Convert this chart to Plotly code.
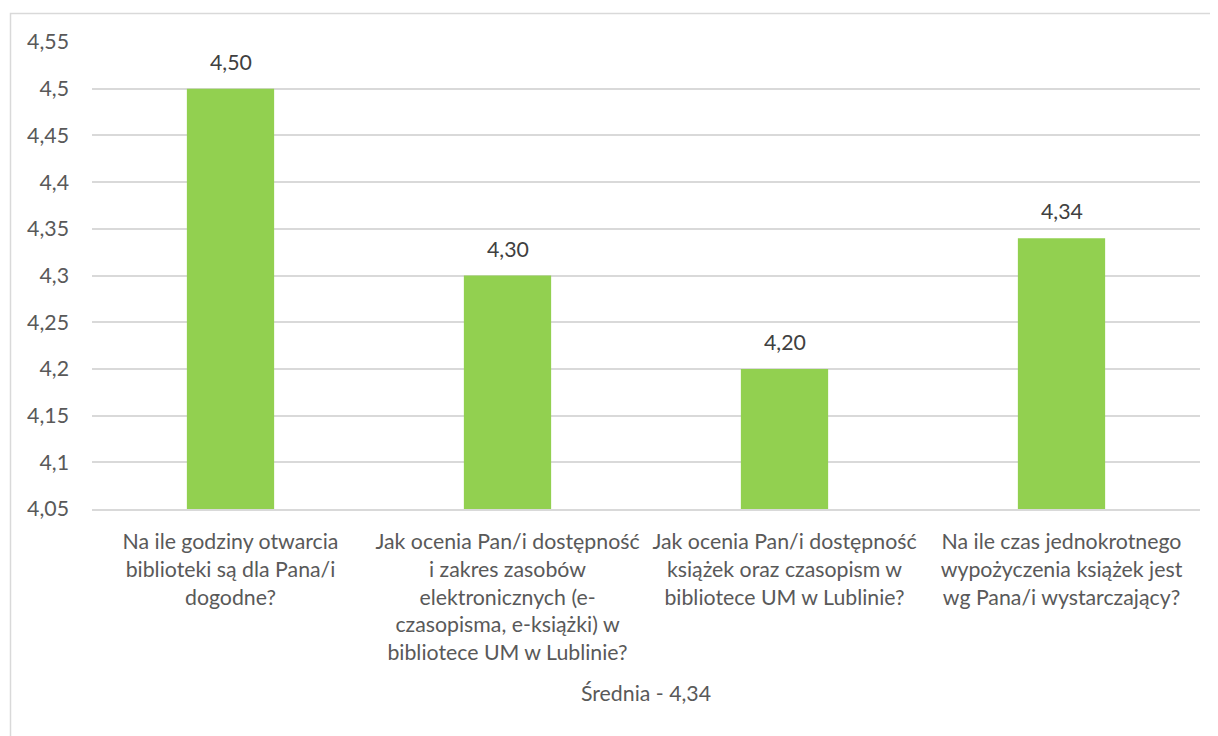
import plotly.graph_objects as go

categories = [
    "Na ile godziny otwarcia<br>biblioteki są dla Pana/i<br>dogodne?",
    "Jak ocenia Pan/i dostępność<br>i zakres zasobów<br>elektronicznych (e-<br>czasopisma, e-książki) w<br>bibliotece UM w Lublinie?",
    "Jak ocenia Pan/i dostępność<br>książek oraz czasopism w<br>bibliotece UM w Lublinie?",
    "Na ile czas jednokrotnego<br>wypożyczenia książek jest<br>wg Pana/i wystarczający?",
]
values = [4.50, 4.30, 4.20, 4.34]
value_labels = ["4,50", "4,30", "4,20", "4,34"]
axis_title = "Średnia - 4,34"

# page body has an 8px margin; figure coords = screen coords - 8
OFF = 8
W, H = 1218 - OFF, 736 - OFF
L, R, T, B = 92 - OFF, 18, 42 - OFF, 227
pw, ph = W - L - R, H - T - B

def px_x(x):
    return (x - OFF - L) / pw

def px_y(y):
    return (H - B - (y - OFF)) / ph

FONT = "Lato, Carlito, 'Open Sans', sans-serif"
FS = 21.3
fig = go.Figure(
    go.Bar(
        x=categories,
        y=values,
        marker=dict(color="#92d050", line=dict(width=0)),
        width=0.315,
        hoverinfo="x+y",
    )
)

annotations = [
    dict(
        x=c, y=v, xref="x", yref="y", text=t, showarrow=False,
        yanchor="bottom", yshift=12,
        font=dict(size=FS, color="#404040", family=FONT),
    )
    for c, v, t in zip(categories, values, value_labels)
]

fig.update_layout(
    width=W,
    height=H,
    margin=dict(l=L, r=R, t=T, b=B),
    paper_bgcolor="white",
    plot_bgcolor="white",
    separators=",.",
    font=dict(family=FONT, size=FS, color="#595959"),
    showlegend=False,
    annotations=annotations,
    shapes=[
        dict(
            type="rect", xref="paper", yref="paper",
            x0=px_x(10.5), x1=px_x(1260), y0=px_y(780), y1=px_y(13.5),
            line=dict(color="#d9d9d9", width=1.5), fillcolor="rgba(0,0,0,0)",
            layer="below",
        )
    ],
)

fig.update_yaxes(
    range=[4.05, 4.55],
    tick0=4.05,
    dtick=0.05,
    showgrid=True,
    gridcolor="#d9d9d9",
    gridwidth=1.5,
    zeroline=False,
    showline=False,
    ticks="",
    ticklabelstandoff=22,
    tickfont=dict(size=FS, color="#595959", family=FONT),
)
fig.update_xaxes(
    showline=True,
    linecolor="#d9d9d9",
    linewidth=1.5,
    ticks="",
    tickangle=0,
    ticklabelstandoff=13,
    tickfont=dict(size=FS, color="#595959", family=FONT),
    title=dict(text=axis_title, font=dict(size=FS, color="#595959", family=FONT), standoff=22),
)

fig.write_html("out.html")
